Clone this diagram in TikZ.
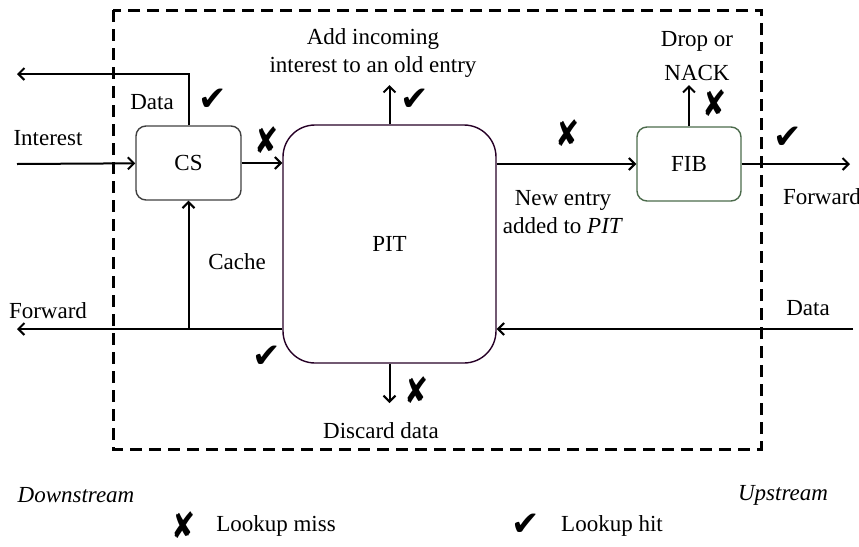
\documentclass[tikz,border=0pt]{standalone}
\usepackage{fontspec}
\setmainfont{Liberation Serif}
\newfontfamily\symfont{DejaVu Sans}
\usetikzlibrary{positioning,arrows.meta}

\newcommand{\hit}{{\symfont\char"2714}}
\newcommand{\miss}{{\symfont\char"2718}}

\begin{document}
\begin{tikzpicture}[x=0.5pt,y=-0.5pt,
  font=\fontsize{11.5}{14}\selectfont,
  box/.style={draw=black!75,line width=0.7pt,rounded corners=5pt,inner sep=0pt},
  flow/.style={line width=1pt,-{Straight Barb[length=3pt,width=6pt]}},
  boundary/.style={line width=1.5pt,dash pattern=on 6pt off 3.5pt},
  hitmark/.style={font=\fontsize{17}{17}\selectfont,inner sep=0pt},
  missmark/.style={font=\fontsize{18}{18}\selectfont,inner sep=0pt,xscale=0.8},
  txt/.style={align=center,inner sep=1pt}]
\useasboundingbox (0,0) rectangle (859,547);

% router boundary
\draw[boundary] (113,10) rectangle (761,449);

% tables
\node[box,minimum width=52.5pt,minimum height=37pt] (cs) at (188.5,163) {CS};
\node[box,draw=black!70!violet,rounded corners=16pt,minimum width=106.5pt,minimum height=119pt] (pit) at (389.5,244) {PIT};
\node[box,draw=black!70!green!40!gray,minimum width=52pt,minimum height=37pt] (fib) at (689,164) {FIB};

% free ends
\coordinate (inL) at (17,164);
\coordinate (dataL) at (17,74);
\coordinate (fwdL) at (17,329);
\coordinate (dataR) at (853,329);
\coordinate (fwdR) at (850,164);
\coordinate (pitUp) at (389.5,85);
\coordinate (pitDown) at (389.5,403);
\coordinate (fibUp) at (689,85);

% interest path
\draw[flow] (inL) -- (cs);
\draw[flow] (cs.north) |- (dataL);
\draw[flow] (cs.east) -- (cs.east -| pit.west);
\draw[flow] (pit.north) -- (pitUp);
\draw[flow] (pit.east |- fib.west) -- (fib.west);
\draw[flow] (fib.north) -- (fibUp);
\draw[flow] (fib.east) -- (fwdR);

% data path
\draw[flow] (dataR) -- (pit.east |- dataR);
\draw[flow] (pit.west |- fwdL) -- (fwdL);
\draw[flow] (cs.south |- fwdL) -- (cs.south);
\draw[flow] (pit.south) -- (pitDown);

% labels
\node[txt] (lInterest) at (48,138) {Interest};
\node[txt] (lDataL) at (152,102) {Data};
\node[txt] (lOld) at (373,53) {Add incoming\\interest to an old entry};
\node[txt] (lDrop) at (697,56) {Drop or\\[3pt]NACK};
\node[txt] (lNew) at (563,212) {New entry\\added to \textit{PIT}};
\node[txt] (lFwdR) at (822,197) {Forward};
\node[txt] (lDataR) at (808,308) {Data};
\node[txt] (lFwdL) at (48,311) {Forward};
\node[txt] (lCache) at (237,262) {Cache};
\node[txt] (lDiscard) at (381,431) {Discard data};
\node[txt] (lDown) at (76,495) {\textit{Downstream}};
\node[txt] (lUp) at (783,495) {\textit{Upstream}};

% lookup results
\node[hitmark] (h1) at (213,100) {\hit};
\node[missmark] (m1) at (267,140) {\miss};
\node[hitmark] (h2) at (415,100) {\hit};
\node[missmark] (m2) at (568,133) {\miss};
\node[missmark] (m3) at (715,103) {\miss};
\node[hitmark] (h3) at (788,138) {\hit};
\node[hitmark] (h4) at (267,357) {\hit};
\node[missmark] (m4) at (417,390) {\miss};

% legend
\node[missmark] (kMiss) at (184,525) {\miss};
\node[txt] (lMiss) at (276,526) {Lookup miss};
\node[hitmark] (kHit) at (526,525) {\hit};
\node[txt] (lHit) at (612,526) {Lookup hit};
\end{tikzpicture}
\end{document}
